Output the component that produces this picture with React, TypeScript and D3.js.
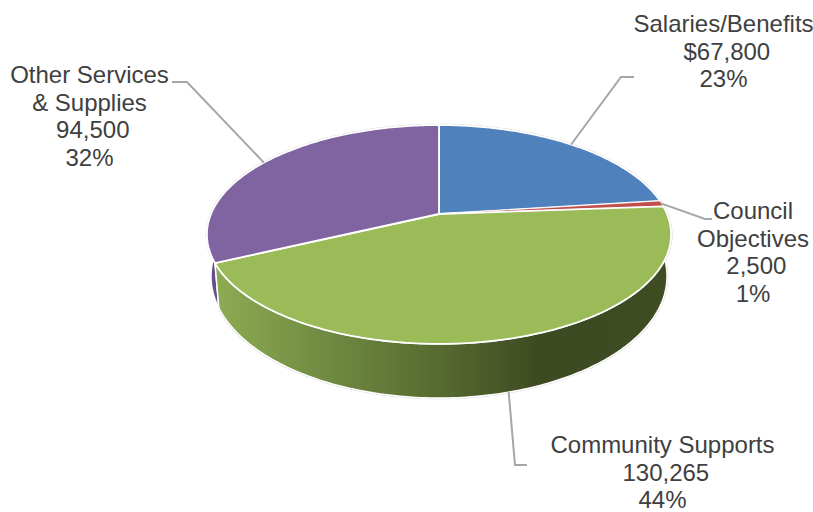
import React from "react";
import * as d3 from "d3";

// Budget allocation by category
const categories = ["Salaries/Benefits", "Council Objectives", "Community Supports", "Other Services & Supplies"];
const amounts = [67800, 2500, 130265, 94500];
const sliceColors = ["#4f81bd", "#c0504d", "#9bbb59", "#8064a2"];

// Amount lines carry a leading space, which nudges them right of the centred block
const labelLines = [
  ["Salaries/Benefits", "\u00A0$67,800", "23%"],
  ["Council", "Objectives", "\u00A02,500", "1%"],
  ["Community Supports", "\u00A0130,265", "44%"],
  ["Other Services", "& Supplies", "\u00A094,500", "32%"],
];
const labelAnchors = [
  { x: 723.5, y: 32 },
  { x: 753, y: 219 },
  { x: 662.5, y: 453 },
  { x: 89.5, y: 83 },
];
const leaderElbows: [number, number][][] = [
  [[621, 77], [634, 77]],
  [[705, 219], [712, 219]],
  [[515, 465], [527, 465]],
  [[187, 82], [172, 82]],
];

// Perspective projection of the disc: top rim and the smaller, lower base rim
const tilt = 0.187;
const cx = 439;
const top = { y0: 214, rx: 228, ry: 105.6 };
const base = { y0: 253.5, rx: 224, ry: 117.5 };

function project(rim: typeof top, a: number): [number, number] {
  const u = Math.sin(a);
  const v = -Math.cos(a);
  const w = 1 - tilt * v;
  return [cx + (rim.rx * u) / w, rim.y0 + (rim.ry * v) / w];
}

const line = d3.line<[number, number]>();
const arcPoints = (rim: typeof top, a0: number, a1: number) => {
  const n = Math.max(2, Math.ceil(Math.abs(a1 - a0) * 60));
  return d3.range(n + 1).map((i) => project(rim, a0 + ((a1 - a0) * i) / n));
};

const pieArcs = d3.pie<number>().sort(null).startAngle(0).endAngle(2 * Math.PI)(amounts);

export default function App() {
  const green = pieArcs[2];
  const purple = pieArcs[3];
  const wallGreen = [
    ...arcPoints(top, green.startAngle, green.endAngle),
    ...arcPoints(base, green.endAngle, green.startAngle),
  ];
  const wallPurple = [
    ...arcPoints(top, purple.startAngle, purple.startAngle + 0.5),
    ...arcPoints(base, purple.startAngle + 0.5, purple.startAngle),
  ];
  return (
    <svg
      width={813}
      height={512}
      style={{ position: "absolute", left: 0, top: 0, background: "#fff" }}
      fontFamily="'Liberation Sans', Arial, sans-serif"
    >
      <defs>
        <linearGradient id="wallShade" gradientUnits="userSpaceOnUse" x1={215} y1={0} x2={671} y2={0}>
          <stop offset="0" stopColor="#8dab52" />
          <stop offset="0.25" stopColor="#6f8a41" />
          <stop offset="0.5" stopColor="#56692f" />
          <stop offset="0.72" stopColor="#3c4921" />
          <stop offset="1" stopColor="#3f4d23" />
        </linearGradient>
      </defs>

      {/* Faint halo just outside the white edge of the disc */}
      <path d={line(arcPoints(top, 0, 2 * Math.PI)) + "Z"} fill="none" stroke="#dcdcdc" strokeWidth={2.6} />
      <path d={line(wallGreen) + "Z"} fill="none" stroke="#dcdcdc" strokeWidth={2.6} />

      <path d={line(wallPurple) + "Z"} fill="#674f8e" stroke="#fff" strokeWidth={1.5} strokeLinejoin="round" />
      <path d={line(wallGreen) + "Z"} fill="url(#wallShade)" stroke="#fff" strokeWidth={1.5} strokeLinejoin="round" />

      {pieArcs.map((d, i) => (
        <path
          key={categories[i]}
          d={line([[cx, top.y0], ...arcPoints(top, d.startAngle, d.endAngle)]) + "Z"}
          fill={sliceColors[i]}
          stroke="#fff"
          strokeWidth={i === 1 ? 0.8 : 1.8}
          strokeLinejoin="round"
        />
      ))}

      {pieArcs.map((d, i) => {
        const mid = (d.startAngle + d.endAngle) / 2;
        const start = project(i === 2 ? base : top, mid);
        return (
          <path
            key={i}
            d={line([start, ...leaderElbows[i]]) ?? ""}
            fill="none"
            stroke="#a6a6a6"
            strokeWidth={2}
          />
        );
      })}

      {labelLines.map((lines, i) => (
        <text
          key={i}
          x={labelAnchors[i].x}
          y={labelAnchors[i].y}
          textAnchor="middle"
          fontSize={24}
          fill="#404040"
        >
          {lines.map((t, j) => (
            <tspan key={j} x={labelAnchors[i].x} y={labelAnchors[i].y + j * 27.5}>
              {t}
            </tspan>
          ))}
        </text>
      ))}
    </svg>
  );
}
